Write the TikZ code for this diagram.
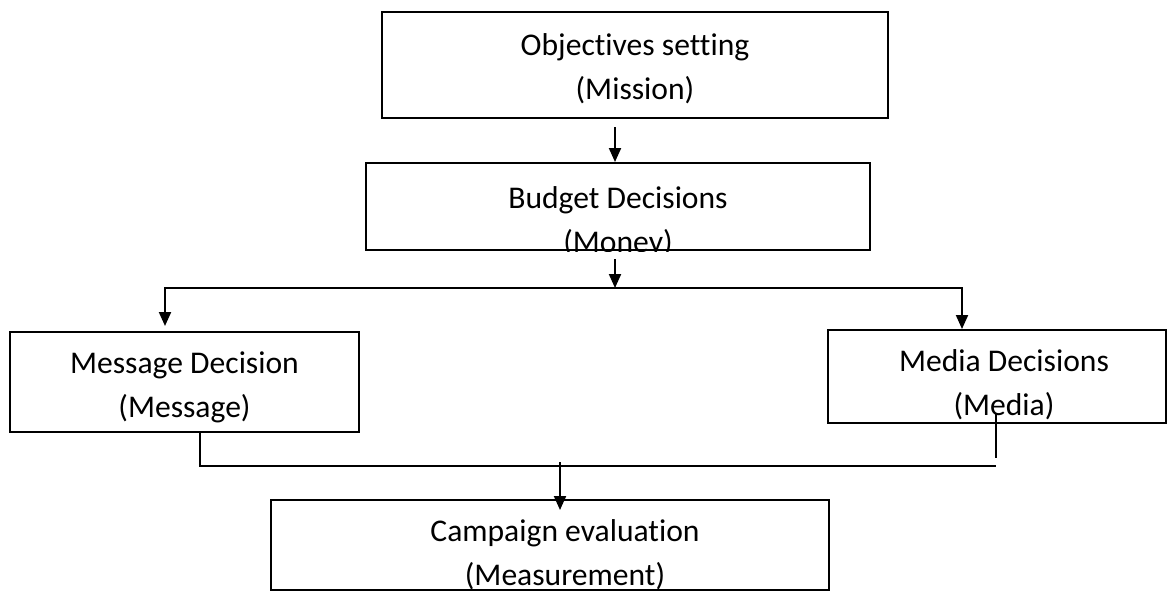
\documentclass[tikz,border=0pt]{standalone}
\usepackage{fontspec}
\setmainfont[Ligatures=NoCommon]{Carlito}
\usetikzlibrary{arrows.meta,calc}
\tikzset{
  box/.style={draw, line width=1pt, inner sep=0pt},
  txt/.style={align=center, inner sep=0pt, font=\fontsize{15.8}{22}\selectfont},
  conn/.style={line width=1pt},
  arr/.style={conn, -{Triangle[length=7pt,width=6pt]}}
}
\begin{document}
\begin{tikzpicture}[x=0.5pt,y=-0.5pt]
\useasboundingbox (0,0) rectangle (1172,591);
% boxes
\node[box, minimum width=253pt, minimum height=53pt] (b1) at (635,65) {};
\node[box, minimum width=252pt, minimum height=43.5pt] (b2) at (618,206.5) {};
\node[box, minimum width=174.5pt, minimum height=50pt] (b3) at (184.5,382) {};
\node[box, minimum width=169pt, minimum height=46.5pt] (b4) at (997,376.5) {};
\node[box, minimum width=279pt, minimum height=45pt] (b5) at (550,545) {};
% texts
\node[txt] (t1) at (635,69) {Objectives setting\\(Mission)};
\begin{scope}
  \clip (b2.south west) rectangle (b2.north east);
  \node[txt] (t2) at (618,222) {Budget Decisions\\(Money)};
\end{scope}
\node[txt] (t3) at (184.5,387.5) {Message Decision\\(Message)};
\node[txt] (t4) at (1004,385) {Media Decisions\\(Media)};
\node[txt] (t5) at (565,555) {Campaign evaluation\\(Measurement)};
% connectors
\draw[arr] ($(b1.south)+(-20,8)$) coordinate (p1) -- (p1 |- b2.north);
\coordinate (j) at (615,288);
\draw[arr] ($(b2.south)+(-3,8)$) -- (j);
\draw[arr] (j) -| ($(b3.north)+(-19.5,-5)$);
\draw[arr] (j) -| ($(b4.north)+(-35,0)$);
\coordinate (mr) at (996,466);
\draw[conn] ($(b3.south)+(15.5,0)$) |- (mr);
\draw[conn] ($(b4.south)+(-1,-11)$) -- ++(0,45);
\draw[arr] ($(b5.north)+(10,-37)$) -- ($(b5.north)+(10,11)$);
\end{tikzpicture}
\end{document}
